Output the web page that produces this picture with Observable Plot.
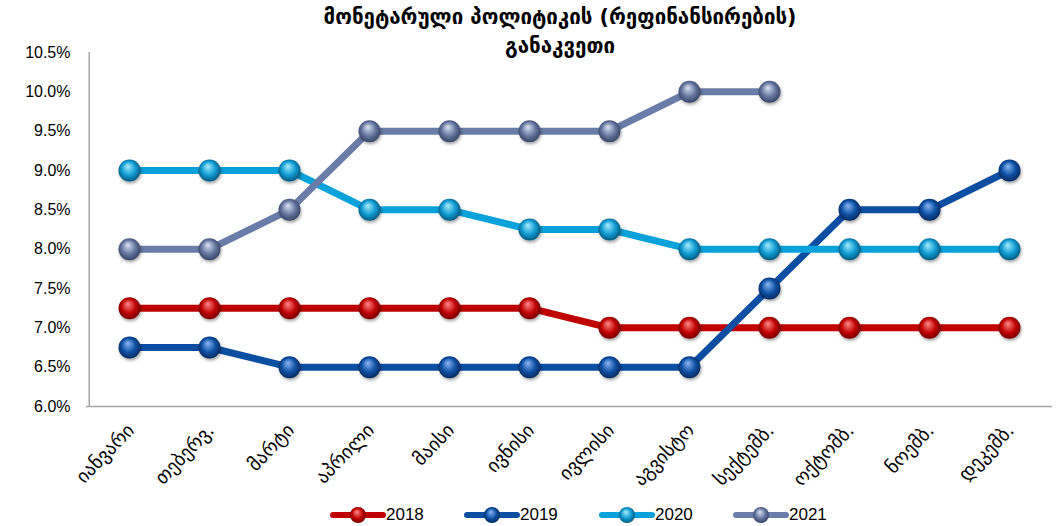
<!DOCTYPE html>
<html>
<head>
<meta charset="utf-8">
<script src="https://cdn.jsdelivr.net/npm/d3@7"></script>
<script src="https://cdn.jsdelivr.net/npm/@observablehq/plot@0.6"></script>
<style>
  html, body { margin: 0; padding: 0; background: #fff; }
  #wrap { position: relative; width: 1058px; height: 526px; overflow: hidden; font-family: "Liberation Sans", Arial, sans-serif; }
  #title { position: absolute; left: 0; width: 1120px; top: 3px; text-align: center; font-family: "DejaVu Sans", sans-serif; font-weight: bold; font-size: 20.5px; line-height: 29px; color: #000; }
  #legend { position: absolute; top: 503px; left: 0; width: 1058px; height: 24px; }
  .item { position: absolute; top: 0; display: flex; align-items: center; font-size: 17px; color: #000; }
  .item svg { display: block; }
</style>
</head>
<body>
<div id="wrap">
  <div id="chart"></div>
  <div id="title">მონეტარული პოლიტიკის (რეფინანსირების)<br>განაკვეთი</div>
  <div id="legend"></div>
</div>
<script>
const months = ["იანვარი", "თებერვ.", "მარტი", "აპრილი", "მაისი", "ივნისი", "ივლისი", "აგვისტო", "სექტემბ.", "ოქტომბ.", "ნოემბ.", "დეკემბ."];
const years = ["2018", "2019", "2020", "2021"];
const rate2018 = [7.25, 7.25, 7.25, 7.25, 7.25, 7.25, 7.0, 7.0, 7.0, 7.0, 7.0, 7.0];
const rate2019 = [6.75, 6.75, 6.5, 6.5, 6.5, 6.5, 6.5, 6.5, 7.5, 8.5, 8.5, 9.0];
const rate2020 = [9.0, 9.0, 9.0, 8.5, 8.5, 8.25, 8.25, 8.0, 8.0, 8.0, 8.0, 8.0];
const rate2021 = [8.0, 8.0, 8.5, 9.5, 9.5, 9.5, 9.5, 10.0, 10.0];
const yTicks = [6.0, 6.5, 7.0, 7.5, 8.0, 8.5, 9.0, 9.5, 10.0, 10.5];
const colors = {"2018": "#C00000", "2019": "#0B4EA2", "2020": "#0AA2DA", "2021": "#6A7DA8"};
const gradStops = {
  "2018": ["#ff8a8a", "#c00000", "#5a0000"],
  "2019": ["#8ab6f5", "#0b4ea2", "#031d45"],
  "2020": ["#a8ecff", "#0a98d0", "#02425e"],
  "2021": ["#dbe2f2", "#61739e", "#2b3550"]
};

const seriesValues = {"2018": rate2018, "2019": rate2019, "2020": rate2020, "2021": rate2021};
const data = years.flatMap(y => seriesValues[y].map((v, i) => ({year: y, month: months[i], value: v})));

const marks = [];
for (const y of years) {
  const d = data.filter(r => r.year === y);
  marks.push(Plot.line(d, {x: "month", y: "value", stroke: colors[y], strokeWidth: 7}));
}
for (const y of years) {
  const d = data.filter(r => r.year === y);
  marks.push(Plot.dot(d, {x: "month", y: "value", r: 11, fill: colors[y], stroke: "none"}));
}

const plot = Plot.plot({
  width: 1058,
  height: 500,
  marginLeft: 86,
  marginRight: 6,
  marginTop: 52,
  marginBottom: 94,
  style: {fontFamily: "'Liberation Sans', Arial, sans-serif", fontSize: "16px", color: "#000", background: "#fff", overflow: "visible"},
  x: {type: "band", domain: months, padding: 0, label: null, tickSize: 0, tickPadding: 22, tickRotate: -46},
  y: {domain: [6.0, 10.5], ticks: yTicks, tickFormat: d => d.toFixed(1) + "%", label: null, tickSize: 0, tickPadding: 16},
  marks: [
    Plot.ruleX([months[0]], {dx: -40.25, stroke: "#a6a6a6", strokeWidth: 1.5}),
    Plot.ruleY([6.0], {stroke: "#a6a6a6", strokeWidth: 1.5}),
    ...marks
  ]
});

// gradient + shadow defs
const ns = "http://www.w3.org/2000/svg";
const defs = document.createElementNS(ns, "defs");
let html = `<filter id="shadow" x="-50%" y="-50%" width="200%" height="200%"><feDropShadow dx="1" dy="2" stdDeviation="1.5" flood-color="#000" flood-opacity="0.35"/></filter>`;
for (const y of years) {
  const s = gradStops[y];
  html += `<radialGradient id="grad${y}" cx="0.5" cy="0.5" r="0.6" fx="0.42" fy="0.3"><stop offset="0" stop-color="${s[0]}"/><stop offset="0.55" stop-color="${s[1]}"/><stop offset="1" stop-color="${s[2]}"/></radialGradient>`;
}
defs.innerHTML = html;
plot.insertBefore(defs, plot.firstChild);
const dotGroups = plot.querySelectorAll("g[aria-label='dot']");
dotGroups.forEach((g, i) => {
  const y = years[i];
  g.setAttribute("fill", `url(#grad${y})`);
  g.setAttribute("filter", "url(#shadow)");
  g.querySelectorAll("circle").forEach(c => c.setAttribute("fill", `url(#grad${y})`));
});
// Georgian tick labels font
plot.querySelectorAll("g[aria-label='x-axis tick label'] text").forEach(t => {
  t.style.fontFamily = "'DejaVu Sans', sans-serif";
  t.style.fontSize = "19px";
  t.setAttribute("dx", "2");
});
document.getElementById("chart").appendChild(plot);

// legend
const legend = document.getElementById("legend");
const legendX = {"2018": 330, "2019": 464, "2020": 599, "2021": 733};
for (const y of years) {
  const item = document.createElement("div");
  item.className = "item";
  item.style.left = legendX[y] + "px";
  item.innerHTML = `<svg width="56" height="24"><defs><radialGradient id="lg${y}" cx="0.5" cy="0.5" r="0.6" fx="0.42" fy="0.3"><stop offset="0" stop-color="${gradStops[y][0]}"/><stop offset="0.55" stop-color="${gradStops[y][1]}"/><stop offset="1" stop-color="${gradStops[y][2]}"/></radialGradient></defs><line x1="3" x2="53" y1="12" y2="12" stroke="${colors[y]}" stroke-width="6" stroke-linecap="round"/><circle cx="28" cy="12" r="8" fill="url(#lg${y})"/></svg><span>${y}</span>`;
  legend.appendChild(item);
}
</script>
</body>
</html>
